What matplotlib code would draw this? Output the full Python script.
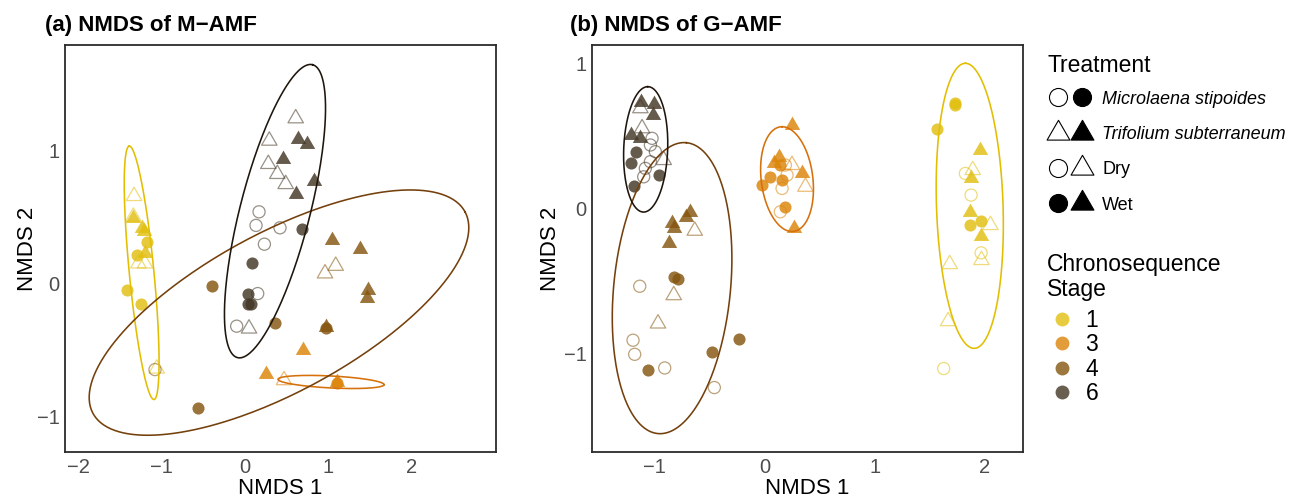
import numpy as np
import matplotlib
matplotlib.use("Agg")
import matplotlib.pyplot as plt
from matplotlib.lines import Line2D
from matplotlib.path import Path
from matplotlib.legend_handler import HandlerTuple

plt.rcParams['font.family'] = ['Liberation Sans', 'DejaVu Sans']

# ---------------- data ----------------
stages = ['1', '3', '4', '6']
stage_colors = {'1': '#E2BF10', '3': '#DC8408', '4': '#84550E', '6': '#433726'}
ellipse_colors = {'1': '#E3BE00', '3': '#D6700A', '4': '#74400C', '6': '#1E150C'}

# Panel (a) M-AMF ; sp: M = Microlaena stipoides, T = Trifolium subterraneum ; wt: D = dry, W = wet
a1_x = [-1.329, -1.337, -1.277, -1.198, -1.058, -1.345, -1.238, -1.210, -1.198, -1.170, -1.297, -1.417, -1.250]
a1_y = [0.654, 0.499, 0.148, 0.148, -0.642, 0.486, 0.411, 0.393, 0.223, 0.311, 0.211, -0.053, -0.153]
a1_sp = ['T', 'T', 'T', 'T', 'T', 'T', 'T', 'T', 'T', 'M', 'M', 'M', 'M']
a1_wt = ['D', 'D', 'D', 'D', 'D', 'W', 'W', 'W', 'W', 'W', 'W', 'W', 'W']

a3_x = [0.467, 0.699, 0.251, 1.098, 1.098]
a3_y = [-0.729, -0.504, -0.684, -0.742, -0.747]
a3_sp = ['T', 'T', 'T', 'T', 'M']
a3_wt = ['D', 'W', 'W', 'W', 'W']

a4_x = [0.958, 1.086, -1.078, -0.395, 0.363, -0.567, 0.970, 1.038, 1.377, 1.477, 1.465, 0.966]
a4_y = [0.073, 0.130, -0.649, -0.023, -0.298, -0.937, -0.328, 0.323, 0.253, -0.048, -0.115, -0.333]
a4_sp = ['T', 'T', 'M', 'M', 'M', 'M', 'T', 'T', 'T', 'T', 'T', 'M']
a4_wt = ['D', 'D', 'D', 'W', 'W', 'W', 'W', 'W', 'W', 'W', 'W', 'W']

a6_x = [0.607, 0.291, 0.279, 0.387, 0.487, 0.048, 0.168, 0.132, 0.419, 0.232, 0.152, -0.100,
        0.631, 0.739, 0.451, 0.826, 0.611, 0.687, 0.088, 0.040, 0.068, 0.040]
a6_y = [1.238, 1.070, 0.895, 0.820, 0.744, -0.341, 0.536, 0.434, 0.416, 0.293, -0.078, -0.323,
        1.083, 1.043, 0.932, 0.769, 0.667, 0.404, 0.153, -0.083, -0.153, -0.160]
a6_sp = ['T', 'T', 'T', 'T', 'T', 'T', 'M', 'M', 'M', 'M', 'M', 'M',
         'T', 'T', 'T', 'T', 'T', 'M', 'M', 'M', 'M', 'M']
a6_wt = ['D'] * 12 + ['W'] * 10

# Panel (b) G-AMF
b1_x = [1.891, 2.052, 1.970, 1.682, 1.667, 1.824, 1.876, 1.967, 1.627,
        1.727, 1.733, 1.567, 1.870, 1.967, 1.961, 1.879, 1.864, 1.967]
b1_y = [0.264, -0.115, -0.356, -0.384, -0.777, 0.241, 0.092, -0.306, -1.103,
        0.724, 0.713, 0.545, -0.115, -0.085, 0.402, 0.207, -0.023, -0.191]
b1_sp = ['T', 'T', 'T', 'T', 'T', 'M', 'M', 'M', 'M',
         'M', 'M', 'M', 'M', 'M', 'T', 'T', 'T', 'T']
b1_wt = ['D'] * 9 + ['W'] * 9

b3_x = [0.248, 0.370, 0.188, 0.203, 0.158, 0.142,
        0.248, 0.127, 0.082, 0.339, 0.264, -0.024, 0.052, 0.142, 0.158, 0.188]
b3_y = [0.299, 0.149, 0.299, 0.230, 0.138, -0.023,
        0.575, 0.356, 0.310, 0.241, -0.138, 0.161, 0.218, 0.299, 0.195, 0.011]
b3_sp = ['T', 'T', 'M', 'M', 'M', 'M',
         'T', 'T', 'T', 'T', 'T', 'M', 'M', 'M', 'M', 'M']
b3_wt = ['D'] * 6 + ['W'] * 10

b4_x = [-0.636, -0.827, -0.970, -1.136, -1.197, -1.182, -0.909, -0.458,
        -0.676, -0.712, -0.842, -0.827, -0.873, -0.827, -0.791, -0.230, -0.479, -1.064]
b4_y = [-0.154, -0.598, -0.793, -0.536, -0.908, -1.005, -1.099, -1.234,
        -0.023, -0.057, -0.103, -0.138, -0.241, -0.471, -0.483, -0.901, -0.989, -1.115]
b4_sp = ['T', 'T', 'T', 'M', 'M', 'M', 'M', 'M',
         'T', 'T', 'T', 'T', 'T', 'M', 'M', 'M', 'M', 'M']
b4_wt = ['D'] * 8 + ['W'] * 10

b6_x = [-1.130, -1.115, -0.918, -1.024, -1.039, -0.994, -1.039, -1.085, -1.100,
        -1.124, -1.009, -1.015, -1.215, -1.130, -1.167, -1.215, -0.964, -1.185]
b6_y = [0.690, 0.552, 0.333, 0.483, 0.437, 0.391, 0.322, 0.276, 0.218,
        0.736, 0.720, 0.644, 0.506, 0.483, 0.391, 0.310, 0.230, 0.154]
b6_sp = ['T', 'T', 'T', 'M', 'M', 'M', 'M', 'M', 'M',
         'T', 'T', 'T', 'T', 'T', 'M', 'M', 'M', 'M']
b6_wt = ['D'] * 9 + ['W'] * 9

# Ellipses (centre, major half-axis vector, minor half-axis vector), data units
a_ell_center = {'1': (-1.238, 0.078), '3': (1.030, -0.742), '4': (0.407, -0.221), '6': (0.359, 0.541)}
a_ell_u = {'1': (-0.148, 0.952), '3': (0.635, -0.020), '4': (2.228, 0.757), '6': (0.450, 1.100)}
a_ell_v = {'1': (0.147, 0.009), '3': (0.0, 0.045), '4': (0.452, -0.525), '6': (0.405, -0.066)}

b_ell_center = {'1': (1.864, 0.018), '3': (0.203, 0.202), '4': (-0.842, -0.549), '6': (-1.082, 0.407)}
b_ell_u = {'1': (-0.039, 0.982), '3': (-0.045, 0.361), '4': (0.130, 1.002), '6': (0.018, 0.432)}
b_ell_v = {'1': (0.303, -0.003), '3': (0.236, 0.0), '4': (0.528, -0.039), '6': (0.200, 0.002)}

treatment_title = 'Treatment'
treatment_labels = ['Microlaena stipoides', 'Trifolium subterraneum', 'Dry', 'Wet']
stage_title = 'Chronosequence\nStage'

# ---------------- style ----------------
TRI = Path([(0.0, 1.0), (-0.866, -0.5), (0.866, -0.5), (0.0, 1.0)], closed=True)
S_CIRC = 76
S_TRI = 165

fig = plt.figure(figsize=(12.96, 4.99), dpi=100)
ax_a = fig.add_axes([65 / 1296, 47 / 499, 431 / 1296, 407 / 499])
ax_b = fig.add_axes([592 / 1296, 47 / 499, 431 / 1296, 407 / 499])


def draw_group(ax, xs, ys, sps, wts, color):
    for x, y, sp, wt in zip(xs, ys, sps, wts):
        marker = 'o' if sp == 'M' else TRI
        s = S_CIRC if sp == 'M' else S_TRI
        if wt == 'W':
            ax.scatter([x], [y], s=s, marker=marker, color=color, alpha=0.82,
                       linewidths=0, zorder=3)
        else:
            ax.scatter([x], [y], s=s, marker=marker, facecolors='none',
                       edgecolors=color, alpha=0.55, linewidths=0.9, zorder=3)


def draw_ellipse(ax, c, u, v, color):
    t = np.linspace(0, 2 * np.pi, 300)
    ex = c[0] + u[0] * np.cos(t) + v[0] * np.sin(t)
    ey = c[1] + u[1] * np.cos(t) + v[1] * np.sin(t)
    ax.plot(ex, ey, color=color, lw=1.15, zorder=4)


groups_a = {'1': (a1_x, a1_y, a1_sp, a1_wt), '3': (a3_x, a3_y, a3_sp, a3_wt),
            '4': (a4_x, a4_y, a4_sp, a4_wt), '6': (a6_x, a6_y, a6_sp, a6_wt)}
groups_b = {'1': (b1_x, b1_y, b1_sp, b1_wt), '3': (b3_x, b3_y, b3_sp, b3_wt),
            '4': (b4_x, b4_y, b4_sp, b4_wt), '6': (b6_x, b6_y, b6_sp, b6_wt)}

for ax, groups, ec, eu, ev, ypad in [(ax_a, groups_a, a_ell_center, a_ell_u, a_ell_v, -1),
                                     (ax_b, groups_b, b_ell_center, b_ell_u, b_ell_v, 2)]:
    for st in stages:
        draw_group(ax, *groups[st], stage_colors[st])
    for st in stages:
        draw_ellipse(ax, ec[st], eu[st], ev[st], ellipse_colors[st])
    for sp in ax.spines.values():
        sp.set_linewidth(1.3)
        sp.set_color('#2b2b2b')
    ax.tick_params(length=0, pad=4, labelsize=14.5, labelcolor='#4D4D4D')
    ax.set_xlabel('NMDS 1', fontsize=16, labelpad=1)
    ax.set_ylabel('NMDS 2', fontsize=16, labelpad=ypad)

ax_a.set_xlim(-2.156, 3.006)
ax_a.set_ylim(-1.268, 1.789)
ax_a.set_xticks([-2, -1, 0, 1, 2])
ax_a.set_yticks([-1, 0, 1])

ax_b.set_xlim(-1.570, 2.348)
ax_b.set_ylim(-1.678, 1.126)
ax_b.set_xticks([-1, 0, 1, 2])
ax_b.set_yticks([-1, 0, 1])

fig.text(45 / 1296, 1 - 25 / 499, '(a) NMDS of M\u2212AMF', fontsize=16, fontweight='bold',
         ha='left', va='center')
fig.text(570 / 1296, 1 - 25 / 499, '(b) NMDS of G\u2212AMF', fontsize=16, fontweight='bold',
         ha='left', va='center')


# ---------------- legends ----------------
def mk(marker, filled, ms, color='black'):
    return Line2D([], [], linestyle='none', marker=marker, markersize=ms,
                  markerfacecolor=color if filled else 'white',
                  markeredgecolor=color, markeredgewidth=0.8)


fig.text(1047 / 1296, 1 - 65 / 499, treatment_title, fontsize=16.5, ha='left', va='center')

h_treat = [(mk('o', False, 13), mk('o', True, 13)),
           (mk(TRI, False, 19), mk(TRI, True, 19)),
           (mk('o', False, 13), mk(TRI, False, 19)),
           (mk('o', True, 13), mk(TRI, True, 19))]
leg1 = fig.legend(h_treat, treatment_labels,
                  handler_map={tuple: HandlerTuple(ndivide=None, pad=0)},
                  loc='upper left', bbox_to_anchor=(1046 / 1296, 1 - 90.5 / 499),
                  frameon=False, fontsize=13,
                  handlelength=2.67, handletextpad=0.45,
                  labelspacing=1.02, borderpad=0, borderaxespad=0)
for t in leg1.get_texts()[:2]:
    t.set_fontstyle('italic')

fig.text(1047 / 1296, 1 - 277 / 499, stage_title, fontsize=16.5, ha='left', va='center',
         linespacing=1.15)

h_stage = [Line2D([], [], linestyle='none', marker='o', markersize=10,
                  markerfacecolor=stage_colors[s], markeredgewidth=0, alpha=0.8)
           for s in stages]
leg2 = fig.legend(h_stage, stages, loc='upper left', bbox_to_anchor=(1048 / 1296, 1 - 309 / 499),
                  frameon=False, fontsize=16.5,
                  handlelength=1.19, handletextpad=0.45,
                  labelspacing=0.06, borderpad=0, borderaxespad=0)

fig.savefig('out.png', dpi=100)
